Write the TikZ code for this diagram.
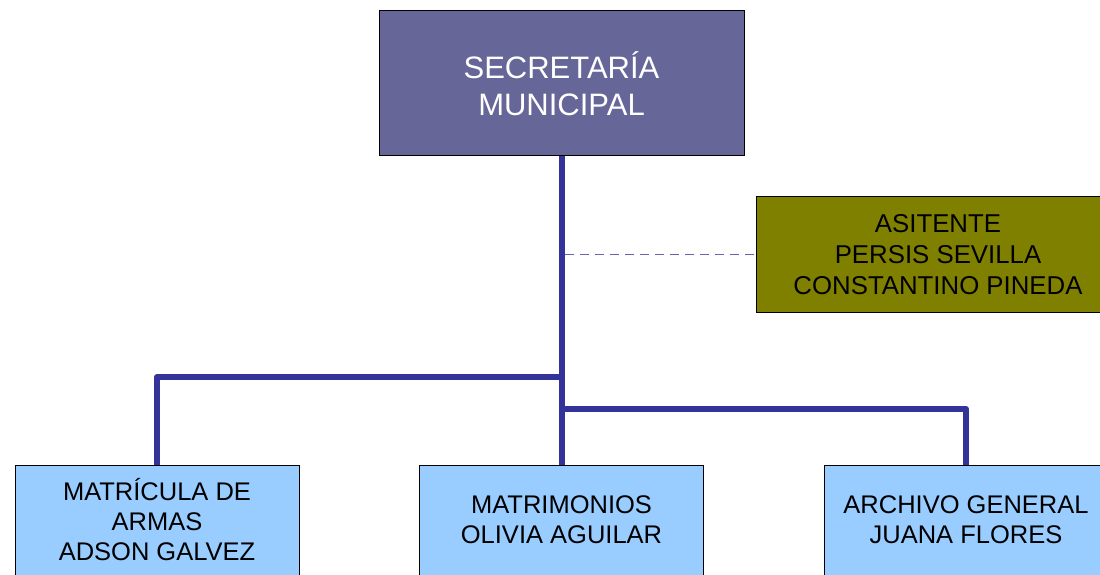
\documentclass[tikz,border=0pt]{standalone}
\usepackage{fontspec}
\setmainfont{Liberation Sans}
\definecolor{topfill}{HTML}{666699}
\definecolor{olivefill}{HTML}{808000}
\definecolor{bluefill}{HTML}{99CCFF}
\definecolor{linkcol}{HTML}{333399}
\definecolor{dashcol}{HTML}{6666AA}
\begin{document}
\begin{tikzpicture}[x=1pt,y=1pt,
  box/.style={draw=black,line width=1pt,rectangle,inner sep=0pt,align=center},
  topbox/.style={box,fill=topfill,text=white,minimum width=365pt,minimum height=145pt,font=\fontsize{31}{37}\selectfont},
  asisbox/.style={box,fill=olivefill,text=black,minimum width=364pt,minimum height=115pt,font=\fontsize{25.8}{31}\selectfont},
  unitbox/.style={box,fill=bluefill,text=black,minimum width=284pt,minimum height=110pt,font=\fontsize{25.5}{30}\selectfont},
  link/.style={draw=linkcol,line width=6pt,line join=round},
  dashlink/.style={draw=dashcol,line width=1pt,dash pattern=on 9pt off 6pt}]
\useasboundingbox (0,0) rectangle (1100,574);
\node[topbox] (top) at (561.5,490.5) {SECRETARÍA\\MUNICIPAL};
\node[asisbox] (asis) at (938,319.5) {ASITENTE\\PERSIS SEVILLA\\CONSTANTINO PINEDA};
\node[unitbox] (left) at (157,54) {MATRÍCULA DE\\ARMAS\\ADSON GALVEZ};
\node[unitbox] (mid) at (561.5,54) {MATRIMONIOS\\OLIVIA AGUILAR};
\node[unitbox] (right) at (966,54) {ARCHIVO GENERAL\\JUANA FLORES};
\coordinate (jl) at (561.5,197);
\coordinate (jr) at (561.5,165);
\coordinate (jd) at (565,319.5);
\draw[link] (top.south) -- (mid.north);
\draw[link] (jl) -| (left.north);
\draw[link] (jr) -| (right.north);
\draw[dashlink] (jd) -- (asis.west);
\end{tikzpicture}
\end{document}
